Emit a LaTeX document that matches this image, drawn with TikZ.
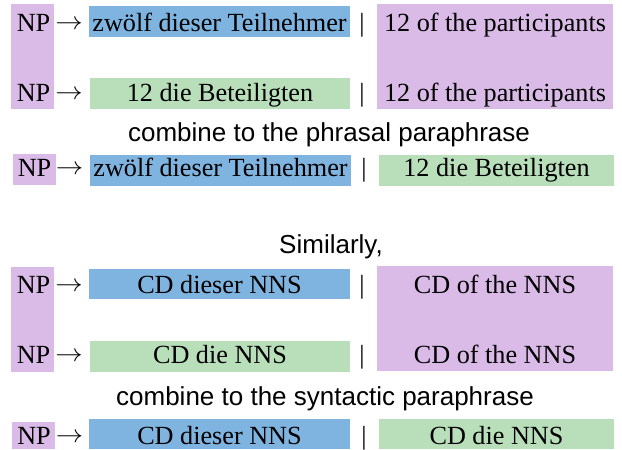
\documentclass[tikz,border=0pt]{standalone}
\usepackage{graphicx}
\usepackage{fontspec}
\setmainfont{Liberation Serif}
\setsansfont{Liberation Sans}
\definecolor{pur}{HTML}{DABBE7}
\definecolor{blu}{HTML}{80B4E0}
\definecolor{grn}{HTML}{B8DFBA}
\newcommand\mybox[6]{\node[inner sep=0pt,outer sep=0pt,fill=#6,minimum width={#4-#2},minimum height={#5-#3},anchor=north west] (#1) at (#2,#3) {};}
\newcommand\myarrow{\scalebox{1.1}[1]{$\rightarrow$}}
\begin{document}
\begin{tikzpicture}[x=1pt,y=-1pt,
  lbl/.style={anchor=base,inner sep=0pt,font=\fontsize{26.2}{30}\selectfont},
  arr/.style={anchor=base,inner sep=0pt,yshift=2pt,font=\fontsize{24.88}{30}\selectfont},
  captxt/.style={anchor=base,inner sep=0pt,font=\sffamily\fontsize{26}{30}\selectfont}]
\useasboundingbox (0,0) rectangle (622,450);
% ---- block 1 ----
\mybox{p1}{11}{4}{54}{109}{pur}
\mybox{b1}{89}{6}{350}{37}{blu}
\mybox{g1}{90}{78}{350}{109}{grn}
\mybox{q1}{377}{4}{613}{109}{pur}
\node[lbl] (np1) at (33.5,31) {NP};
\node[arr] (ar1) at (69,31) {\myarrow};
\node[lbl] (tb1) at (219.5,31) {zwölf dieser Teilnehmer};
\node[lbl] (br1) at (362,31) {|};
\node[lbl] (tq1) at (495,31) {12 of the participants};
\node[lbl] (np2) at (33.5,101) {NP};
\node[arr] (ar2) at (69,101) {\myarrow};
\node[lbl] (tg1) at (220,101) {12 die Beteiligten};
\node[lbl] (br2) at (362,101) {|};
\node[lbl] (tq2) at (495,101) {12 of the participants};
\node[captxt] (c1) at (329,141) {combine to the phrasal paraphrase};
% ---- row 3 ----
\mybox{p3}{13}{154}{56}{185}{pur}
\mybox{b3}{90}{155}{351}{186}{blu}
\mybox{g3}{379}{155}{614}{186}{grn}
\node[lbl] (np3) at (34.5,176) {NP};
\node[arr] (ar3) at (69.5,176) {\myarrow};
\node[lbl] (tb3) at (220.5,176) {zwölf dieser Teilnehmer};
\node[lbl] (br3) at (364,176) {|};
\node[lbl] (tg3) at (496.5,176) {12 die Beteiligten};
\node[captxt] (c2) at (331,253) {Similarly,};
% ---- block 2 ----
\mybox{p4}{11}{267}{54}{372}{pur}
\mybox{b4}{89}{269}{350}{299}{blu}
\mybox{g4}{90}{341}{350}{372}{grn}
\mybox{q4}{377}{266}{613}{371}{pur}
\node[lbl] (np4) at (33.5,293) {NP};
\node[arr] (ar4) at (69,293) {\myarrow};
\node[lbl] (tb4) at (219.5,293) {CD dieser NNS};
\node[lbl] (br4) at (362,293) {|};
\node[lbl] (tq4) at (495,293) {CD of the NNS};
\node[lbl] (np5) at (33.5,363) {NP};
\node[arr] (ar5) at (69,363) {\myarrow};
\node[lbl] (tg4) at (220,363) {CD die NNS};
\node[lbl] (br5) at (362,363) {|};
\node[lbl] (tq5) at (495,363) {CD of the NNS};
\node[captxt] (c3) at (325,405) {combine to the syntactic paraphrase};
% ---- row 6 ----
\mybox{p6}{12}{422}{55}{449}{pur}
\mybox{b6}{89}{419}{350}{449}{blu}
\mybox{g6}{379}{419}{614}{449}{grn}
\node[lbl] (np6) at (34,444) {NP};
\node[arr] (ar6) at (69.5,444) {\myarrow};
\node[lbl] (tb6) at (219.5,444) {CD dieser NNS};
\node[lbl] (br6) at (364,444) {|};
\node[lbl] (tg6) at (496.5,444) {CD die NNS};
\end{tikzpicture}
\end{document}
